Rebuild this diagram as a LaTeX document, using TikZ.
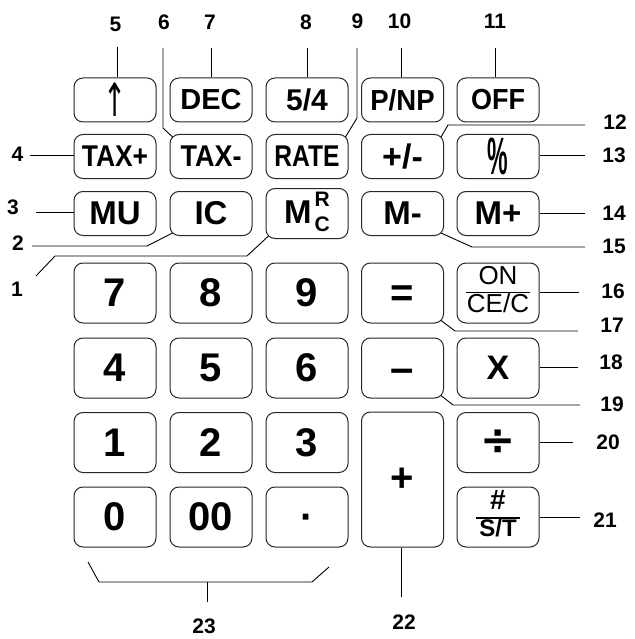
\documentclass[tikz,border=0pt]{standalone}
\usepackage{fontspec}
\usetikzlibrary{calc}
\setmainfont{Liberation Sans}
\newfontfamily\symfont{DejaVu Sans}
\newcommand{\myfs}[1]{\fontsize{#1}{#1}\selectfont}
\begin{document}
\begin{tikzpicture}[x=1pt,y=-1pt,
  key/.style={draw=black!85, line width=1pt, rounded corners=9pt, minimum width=82pt, inner sep=0pt, font=\bfseries},
  sk/.style={key, minimum height=44pt},
  bk/.style={key, minimum height=60pt},
  lbl/.style={font=\bfseries\myfs{21}, inner sep=0pt},
  lead/.style={line width=0.9pt, black}]
\fill[white] (0,0) rectangle (634,639);
\useasboundingbox (0,0) rectangle (634,639);
% row 1
\node[sk] (kUp)  at (115,100)   {\symfont\mdseries\myfs{46}\scalebox{0.6}[1]{↑}};
\node[sk] (kDEC) at (211,100)   {\myfs{29}DEC};
\node[sk] (k54)  at (307,100)   {\myfs{30}5/4};
\node[sk] (kPNP) at (402.5,100) {\myfs{29}\scalebox{0.95}[1]{P/NP}};
\node[sk] (kOFF) at (498,100)   {\myfs{29}\scalebox{0.93}[1]{OFF}};
% row 2
\node[sk] (kTaxP) at (115,156.5)   {\myfs{30}\scalebox{0.88}[1]{TAX+}};
\node[sk] (kTaxM) at (211,156.5)   {\myfs{30}\scalebox{0.9}[1]{TAX-}};
\node[sk] (kRate) at (307,156.5)   {\myfs{30}\scalebox{0.82}[1]{RATE}};
\node[sk] (kPM)   at (402.5,156.5) {\myfs{34}+/-};
\node[sk] (kPct)  at (498,156.5)   {\myfs{42}\scalebox{0.55}[1.25]{\%}};
% row 3
\node[sk] (kMU)  at (115,213.5)   {\myfs{33}MU};
\node[sk] (kIC)  at (211,213.5)   {\myfs{33}IC};
\node[sk] (kMRC) at (307,213.5)   {\myfs{33}M\hspace{3pt}\raisebox{-8pt}{\fontsize{21}{25}\selectfont\begin{tabular}[b]{@{}c@{}}R\\C\end{tabular}}};
\node[sk] (kMm)  at (402.5,213.5) {\myfs{33}M-};
\node[sk] (kMp)  at (498,213.5)   {\myfs{33}M+};
% row 4
\node[bk] (k7)  at (115,293)   {\myfs{40}7};
\node[bk] (k8)  at (211,293)   {\myfs{40}8};
\node[bk] (k9)  at (307,293)   {\myfs{40}9};
\node[bk] (kEq) at (402.5,293) {\myfs{40}\vphantom{0}=};
\node[bk] (kOn) at (498,293)   {\setlength\arrayrulewidth{1.6pt}\mdseries\myfs{26}\begin{tabular}{@{\hspace{1pt}}c@{\hspace{1pt}}}ON\\\hline CE/C\end{tabular}};
% row 5
\node[bk] (k4)  at (115,368)   {\myfs{40}4};
\node[bk] (k5)  at (211,368)   {\myfs{40}5};
\node[bk] (k6)  at (307,368)   {\myfs{40}6};
\node[bk] (kMin) at (402.5,368) {\myfs{42}\vphantom{0}–};
\node[bk] (kX)  at (498,368)   {\myfs{34}X};
% row 6
\node[bk] (k1)  at (115,442.5) {\myfs{40}1};
\node[bk] (k2)  at (211,442.5) {\myfs{40}2};
\node[bk] (k3)  at (307,442.5) {\myfs{40}3};
\node[bk] (kDiv) at (498,442.5) {\symfont\bfseries\myfs{42}÷};
% row 7
\node[bk] (k0)  at (115,517) {\myfs{40}0};
\node[bk] (k00) at (211,517) {\myfs{40}00};
\node[bk] (kDot) at (307,517) {\myfs{40}\vphantom{0}·};
\node[bk] (kST) at (498,517) {\setlength\arrayrulewidth{1.6pt}\myfs{24}\begin{tabular}{@{\hspace{3pt}}c@{\hspace{3pt}}}{\myfs{28}\#}\\\hline S/T\end{tabular}};
\node[key, minimum height=135pt] (kPlus) at (402.5,479.5) {\myfs{40}+};
% labels
\node[lbl] (l5)  at (115.5,24) {5};
\node[lbl] (l6)  at (164,22)   {6};
\node[lbl] (l7)  at (210,22)   {7};
\node[lbl] (l8)  at (306,22)   {8};
\node[lbl] (l9)  at (357.5,21) {9};
\node[lbl] (l10) at (399.5,21) {10};
\node[lbl] (l11) at (495,21)   {11};
\node[lbl] (l12) at (615,122)  {12};
\node[lbl] (l13) at (614,155)  {13};
\node[lbl] (l4)  at (17.5,154.5) {4};
\node[lbl] (l3)  at (13,207.5) {3};
\node[lbl] (l2)  at (18,243)   {2};
\node[lbl] (l1)  at (17,289)   {1};
\node[lbl] (l14) at (614,213)  {14};
\node[lbl] (l15) at (614,246)  {15};
\node[lbl] (l16) at (613,291)  {16};
\node[lbl] (l17) at (612,325)  {17};
\node[lbl] (l18) at (611,362)  {18};
\node[lbl] (l19) at (612,404)  {19};
\node[lbl] (l20) at (608,442)  {20};
\node[lbl] (l21) at (605,520)  {21};
\node[lbl] (l22) at (404,622)  {22};
\node[lbl] (l23) at (204,626)  {23};
% leader coordinates
\coordinate (c5) at (117,47);
\coordinate (c6a) at (163,48);  \coordinate (c6b) at (163,128);
\coordinate (c7) at (211,48);
\coordinate (c8) at (307,48);
\coordinate (c9a) at (357,48);  \coordinate (c9b) at (357,118);
\coordinate (c10) at (401,48);
\coordinate (c11) at (495,48);
\coordinate (c12a) at (585,125); \coordinate (c12b) at (448,125);
\coordinate (c13) at (585,155);
\coordinate (c4) at (30,155);
\coordinate (c3) at (36,212);
\coordinate (c2a) at (32,246); \coordinate (c2b) at (147,246);
\coordinate (c1a) at (36,276); \coordinate (c1b) at (55,256); \coordinate (c1c) at (247,256);
\coordinate (c14) at (585,213);
\coordinate (c15a) at (585,247); \coordinate (c15b) at (472,247);
\coordinate (c16) at (579,292);
\coordinate (c17a) at (578,331); \coordinate (c17b) at (455,331);
\coordinate (c18) at (578,367);
\coordinate (c19a) at (580,405); \coordinate (c19b) at (453,405);
\coordinate (c20) at (573,442);
\coordinate (c21) at (580,517);
\coordinate (c22) at (401,597);
\coordinate (b1) at (88,562); \coordinate (b2) at (99,582);
\coordinate (b3) at (312,582); \coordinate (b4) at (329,567);
\coordinate (b5) at (207,582); \coordinate (b6) at (207,602);
% leaders
\draw[lead] (c5) -- (c5 |- kUp.north);
\draw[lead] (c6a) -- (c6b) -- ($(kTaxM.north west)+(3,3)$);
\draw[lead] (c7) -- (c7 |- kDEC.north);
\draw[lead] (c8) -- (c8 |- k54.north);
\draw[lead] (c9a) -- (c9b) -- ($(kRate.north east)+(-3,3)$);
\draw[lead] (c10) -- (c10 |- kPNP.north);
\draw[lead] (c11) -- (c11 |- kOFF.north);
\draw[lead] (c12a) -- (c12b) -- ($(kPM.north east)+(-3,3)$);
\draw[lead] (kPct.east |- c13) -- (c13);
\draw[lead] (c4) -- (c4 -| kTaxP.west);
\draw[lead] (c3) -- (c3 -| kMU.west);
\draw[lead] (c2a) -- (c2b) -- ($(kIC.south west)+(3,-3)$);
\draw[lead] (c1a) -- (c1b) -- (c1c) -- ($(kMRC.south west)+(3,-3)$);
\draw[lead] (kMp.east |- c14) -- (c14);
\draw[lead] (c15a) -- (c15b) -- ($(kMm.south east)+(-3,-3)$);
\draw[lead] (kOn.east |- c16) -- (c16);
\draw[lead] (c17a) -- (c17b) -- ($(kEq.south east)+(-3,-3)$);
\draw[lead] (kX.east |- c18) -- (c18);
\draw[lead] (c19a) -- (c19b) -- ($(kMin.south east)+(-3,-3)$);
\draw[lead] (kDiv.east |- c20) -- (c20);
\draw[lead] (kST.east |- c21) -- (c21);
\draw[lead] (c22 |- kPlus.south) -- (c22);
\draw[lead] (b1) -- (b2) -- (b3) -- (b4);
\draw[lead] (b5) -- (b6);
\end{tikzpicture}
\end{document}
